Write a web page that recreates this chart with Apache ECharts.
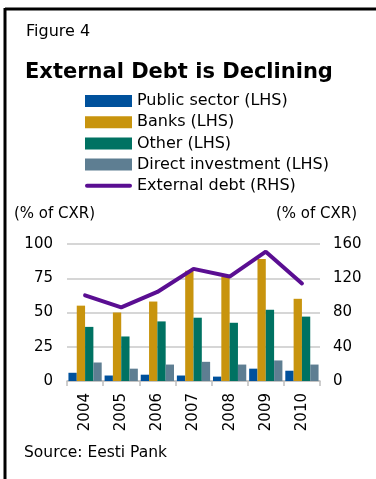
<!DOCTYPE html>
<html>
<head>
<meta charset="utf-8">
<script src="https://cdn.jsdelivr.net/npm/echarts@6/dist/echarts.min.js"></script>
<style>
  html, body { margin: 0; padding: 0; background: #fff; }
  #chart { width: 376px; height: 479px; }
</style>
</head>
<body>
<div id="chart"></div>
<script>
// Estonian external debt by sector, % of current account receipts
const years = ['2004', '2005', '2006', '2007', '2008', '2009', '2010'];
const publicSector = [6, 4, 4.6, 4, 3.2, 9, 7.5];
const banks = [55, 50, 58, 80.5, 76, 89, 60];
const other = [39.5, 32.5, 43.5, 46.2, 42.5, 52, 47];
const directInvestment = [13.5, 9, 12, 14, 12, 15, 12];
const externalDebt = [100, 86, 104, 131, 122, 151, 114];

const leftTicks = { min: 0, max: 100, interval: 25 };
const rightTicks = { min: 0, max: 160, interval: 40 };

const FONT = 'DejaVu Sans';
const chart = echarts.init(document.getElementById('chart'), null, { renderer: 'canvas' });

const barSeries = (name, data, color) => ({
  name, type: 'bar', yAxisIndex: 0, data,
  itemStyle: { color },
  barGap: '0%', barCategoryGap: '8%'
});

chart.setOption({
  backgroundColor: '#fff',
  animation: false,
  textStyle: { fontFamily: FONT, color: '#000' },
  title: [
    { text: 'Figure 4', left: 26, top: 24, padding: 0, textStyle: { fontFamily: FONT, fontSize: 16, fontWeight: 'normal', color: '#000' } },
    { text: 'External Debt is Declining', left: 25, top: 62, padding: 0, textStyle: { fontFamily: FONT, fontSize: 21, fontWeight: 'bold', color: '#000' } }
  ],
  legend: {
    orient: 'vertical', left: 85, top: 93, padding: 0,
    itemWidth: 47, itemHeight: 12, itemGap: 5.2,
    symbolKeepAspect: true,
    textStyle: { fontFamily: FONT, fontSize: 16, color: '#000' },
    data: [
      { name: 'Public sector (LHS)', icon: 'rect' },
      { name: 'Banks (LHS)', icon: 'rect' },
      { name: 'Other (LHS)', icon: 'rect' },
      { name: 'Direct investment (LHS)', icon: 'rect' },
      { name: 'External debt (RHS)', icon: 'path://M2,0 L45,0 A2,2 0 0 1 45,4 L2,4 A2,2 0 0 1 2,0 Z' }
    ]
  },
  grid: { left: 67, right: 56, top: 244, bottom: 98, containLabel: false },
  xAxis: {
    type: 'category', data: years,
    axisLine: { lineStyle: { color: '#bfbfbf', width: 1.5 } },
    axisTick: { show: true, length: 5, lineStyle: { color: '#bfbfbf', width: 1.5 } },
    axisLabel: { rotate: 90, fontSize: 15, color: '#000', margin: 12, fontFamily: FONT }
  },
  yAxis: [
    {
      type: 'value', ...leftTicks, position: 'left',
      name: '(% of CXR)', nameLocation: 'end', nameGap: 22,
      nameTextStyle: { fontSize: 15, color: '#000', align: 'left', padding: [0, 0, 0, -53], fontFamily: FONT },
      axisLine: { show: false }, axisTick: { show: false },
      axisLabel: { fontSize: 15, color: '#000', margin: 14, fontFamily: FONT },
      splitLine: { lineStyle: { color: '#c8c8c8', width: 1.5 } }
    },
    {
      type: 'value', ...rightTicks, position: 'right',
      name: '(% of CXR)', nameLocation: 'end', nameGap: 22,
      nameTextStyle: { fontSize: 15, color: '#000', align: 'right', padding: [0, -37, 0, 0], fontFamily: FONT },
      axisLine: { show: false }, axisTick: { show: false },
      axisLabel: { fontSize: 15, color: '#000', margin: 13, fontFamily: FONT },
      splitLine: { show: false }
    }
  ],
  series: [
    barSeries('Public sector (LHS)', publicSector, '#00519c'),
    barSeries('Banks (LHS)', banks, '#c8940e'),
    barSeries('Other (LHS)', other, '#007262'),
    barSeries('Direct investment (LHS)', directInvestment, '#5e7e92'),
    {
      name: 'External debt (RHS)', type: 'line', yAxisIndex: 1, data: externalDebt,
      symbol: 'none', lineStyle: { color: '#5a0e92', width: 4, cap: 'round' },
      itemStyle: { color: '#5a0e92' }
    }
  ],
  graphic: [
    { type: 'line', shape: { x1: 5, y1: 9, x2: 376, y2: 9 }, style: { stroke: '#000', lineWidth: 3 } },
    { type: 'line', shape: { x1: 5, y1: 8, x2: 5, y2: 479 }, style: { stroke: '#000', lineWidth: 3 } },
    { type: 'text', left: 24, top: 445, style: { text: 'Source: Eesti Pank', font: '15.5px "DejaVu Sans"', fill: '#000' } }
  ]
});
</script>
</body>
</html>
